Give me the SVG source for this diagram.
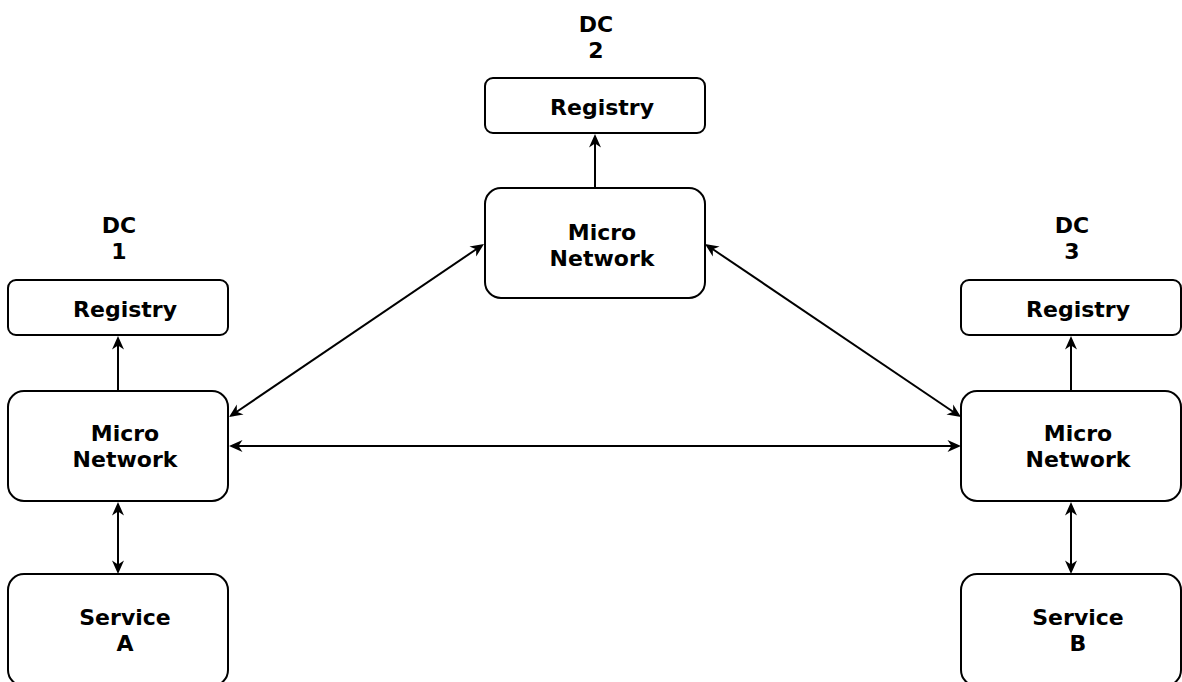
<svg xmlns="http://www.w3.org/2000/svg" xmlns:xlink="http://www.w3.org/1999/xlink" width="1182" height="682" viewBox="0 0 1182 682">
  <style>
    .box { fill: #ffffff; stroke: #000000; stroke-width: 2; }
    .lbl { font-family: "DejaVu Sans", sans-serif; font-weight: bold; font-size: 22px; fill: #000000; text-anchor: middle; }
    .edge { fill: none; stroke: #000000; stroke-width: 2; }
  </style>
  <defs>
    <!-- notched arrowhead pointing along +x, tip at the origin -->
    <path id="head" d="M0,0 L-13.5,-6 L-9.5,0 L-13.5,6 Z" fill="#000000"/>
  </defs>
  <rect width="1182" height="682" fill="#ffffff"/>

  <!-- data center captions -->
  <g id="dc1">
    <text class="lbl" x="119" y="233">DC</text>
    <text class="lbl" x="119" y="259">1</text>
  </g>
  <g id="dc2">
    <text class="lbl" x="596" y="32">DC</text>
    <text class="lbl" x="596" y="58">2</text>
  </g>
  <g id="dc3">
    <text class="lbl" x="1072" y="233">DC</text>
    <text class="lbl" x="1072" y="259">3</text>
  </g>

  <!-- connectors -->
  <g id="connectors">
    <!-- micro network to registry -->
    <line class="edge" x1="118" y1="391" x2="118" y2="345"/>
    <use xlink:href="#head" href="#head" transform="translate(118,336) rotate(-90)"/>
    <line class="edge" x1="595" y1="188" x2="595" y2="143"/>
    <use xlink:href="#head" href="#head" transform="translate(595,134) rotate(-90)"/>
    <line class="edge" x1="1071" y1="391" x2="1071" y2="345"/>
    <use xlink:href="#head" href="#head" transform="translate(1071,336) rotate(-90)"/>

    <!-- micro network to service -->
    <line class="edge" x1="118" y1="511" x2="118" y2="565"/>
    <use xlink:href="#head" href="#head" transform="translate(118,502) rotate(-90)"/>
    <use xlink:href="#head" href="#head" transform="translate(118,574) rotate(90)"/>
    <line class="edge" x1="1071" y1="511" x2="1071" y2="565"/>
    <use xlink:href="#head" href="#head" transform="translate(1071,502) rotate(-90)"/>
    <use xlink:href="#head" href="#head" transform="translate(1071,574) rotate(90)"/>

    <!-- DC 1 to DC 2 -->
    <line class="edge" x1="236.4" y1="412" x2="476.6" y2="249"/>
    <use xlink:href="#head" href="#head" transform="translate(229,417) rotate(145.84)"/>
    <use xlink:href="#head" href="#head" transform="translate(484,244) rotate(-34.16)"/>

    <!-- DC 2 to DC 3 -->
    <line class="edge" x1="712.5" y1="249" x2="953.5" y2="412"/>
    <use xlink:href="#head" href="#head" transform="translate(705,244) rotate(214.05)"/>
    <use xlink:href="#head" href="#head" transform="translate(961,417) rotate(34.05)"/>

    <!-- DC 1 to DC 3 -->
    <line class="edge" x1="238" y1="446" x2="952" y2="446"/>
    <use xlink:href="#head" href="#head" transform="translate(229,446) rotate(180)"/>
    <use xlink:href="#head" href="#head" transform="translate(961,446)"/>
  </g>

  <!-- DC 1 -->
  <g id="registry1">
    <rect class="box" x="8" y="280" width="220" height="55" rx="8"/>
    <text class="lbl" x="125" y="317">Registry</text>
  </g>
  <g id="micro1">
    <rect class="box" x="8" y="391" width="220" height="110" rx="16"/>
    <text class="lbl" x="125" y="441">Micro</text>
    <text class="lbl" x="125" y="467">Network</text>
  </g>
  <g id="serviceA">
    <rect class="box" x="8" y="574" width="220" height="112" rx="16"/>
    <text class="lbl" x="125" y="625">Service</text>
    <text class="lbl" x="125" y="651">A</text>
  </g>

  <!-- DC 2 -->
  <g id="registry2">
    <rect class="box" x="485" y="78" width="220" height="55" rx="8"/>
    <text class="lbl" x="602" y="115">Registry</text>
  </g>
  <g id="micro2">
    <rect class="box" x="485" y="188" width="220" height="110" rx="16"/>
    <text class="lbl" x="602" y="240">Micro</text>
    <text class="lbl" x="602" y="266">Network</text>
  </g>

  <!-- DC 3 -->
  <g id="registry3">
    <rect class="box" x="961" y="280" width="220" height="55" rx="8"/>
    <text class="lbl" x="1078" y="317">Registry</text>
  </g>
  <g id="micro3">
    <rect class="box" x="961" y="391" width="220" height="110" rx="16"/>
    <text class="lbl" x="1078" y="441">Micro</text>
    <text class="lbl" x="1078" y="467">Network</text>
  </g>
  <g id="serviceB">
    <rect class="box" x="961" y="574" width="220" height="112" rx="16"/>
    <text class="lbl" x="1078" y="625">Service</text>
    <text class="lbl" x="1078" y="651">B</text>
  </g>
</svg>
